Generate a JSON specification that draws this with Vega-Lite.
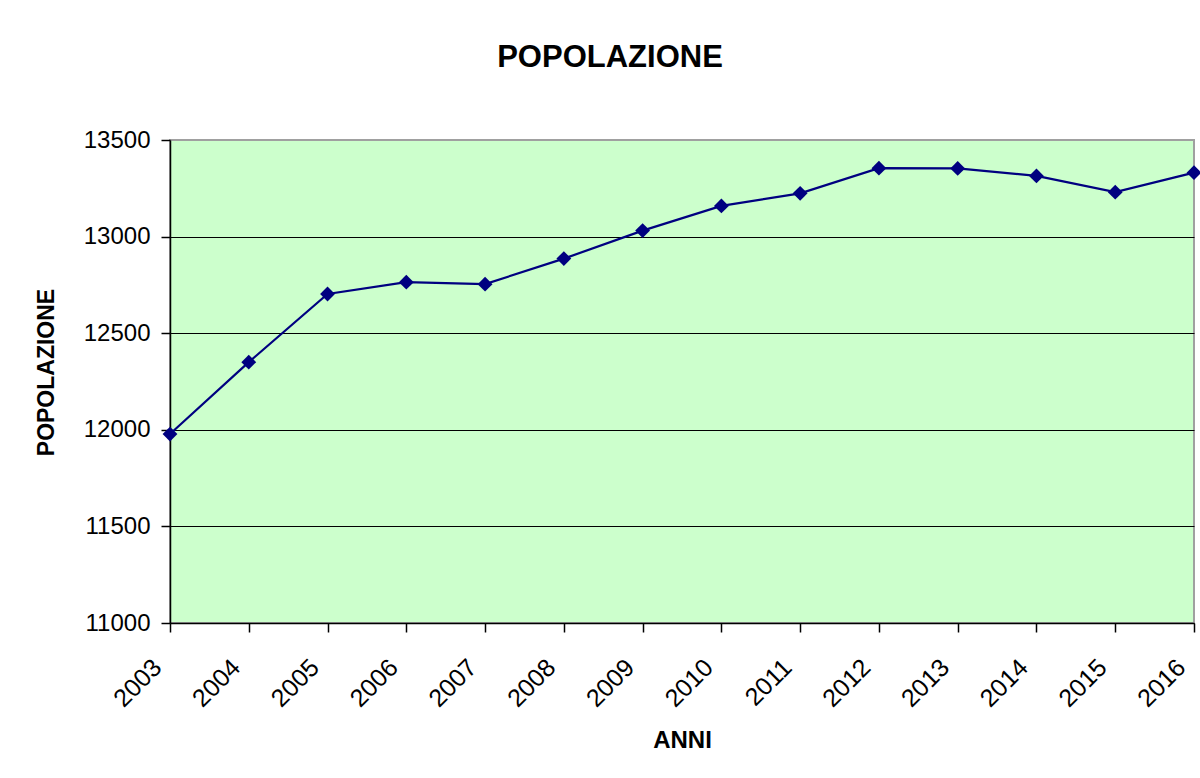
{
  "$schema": "https://vega.github.io/schema/vega-lite/v6.json",
  "autosize": "none",
  "width": 1024,
  "height": 483,
  "padding": {"left": 170, "top": 140, "right": 6, "bottom": 155},
  "background": "white",
  "title": {
    "text": "POPOLAZIONE",
    "font": "Liberation Sans",
    "fontSize": 31,
    "fontWeight": "bold",
    "color": "black",
    "anchor": "middle",
    "frame": "group",
    "baseline": "alphabetic",
    "offset": 30,
    "dx": -72
  },
  "config": {
    "view": {"fill": "#CCFFCC", "stroke": "#A0A0A0", "strokeWidth": 2},
    "axis": {
      "labelFont": "Liberation Sans",
      "titleFont": "Liberation Sans",
      "labelColor": "black",
      "titleColor": "black",
      "domainColor": "black",
      "tickColor": "black",
      "domainWidth": 1.5,
      "tickWidth": 1.5
    }
  },
  "data": {
    "values": [
      {"anno": "2003", "popolazione": 11978},
      {"anno": "2004", "popolazione": 12350},
      {"anno": "2005", "popolazione": 12703},
      {"anno": "2006", "popolazione": 12764},
      {"anno": "2007", "popolazione": 12754},
      {"anno": "2008", "popolazione": 12886},
      {"anno": "2009", "popolazione": 13031},
      {"anno": "2010", "popolazione": 13159},
      {"anno": "2011", "popolazione": 13224},
      {"anno": "2012", "popolazione": 13354},
      {"anno": "2013", "popolazione": 13353},
      {"anno": "2014", "popolazione": 13314},
      {"anno": "2015", "popolazione": 13230},
      {"anno": "2016", "popolazione": 13331}
    ]
  },
  "encoding": {
    "x": {
      "field": "anno",
      "type": "ordinal",
      "scale": {"type": "point", "padding": 0},
      "axis": {
        "title": "ANNI",
        "titleFontSize": 24,
        "titleFontWeight": "bold",
        "titleY": 124,
        "titleBaseline": "alphabetic",
        "labelFontSize": 25,
        "labelAngle": -45,
        "labelAlign": "right",
        "labelBaseline": "middle",
        "labelPadding": 31,
        "labelOffset": -13,
        "tickSize": 9,
        "grid": false
      }
    },
    "y": {
      "field": "popolazione",
      "type": "quantitative",
      "scale": {"domain": [11000, 13500], "nice": false, "zero": false},
      "axis": {
        "title": "POPOLAZIONE",
        "titleFontSize": 23,
        "titleFontWeight": "bold",
        "titleAnchor": "middle",
        "titleX": -117,
        "titleY": 232,
        "titleBaseline": "alphabetic",
        "labelFontSize": 24,
        "labelPadding": 11,
        "format": "d",
        "tickSize": 9,
        "values": [11000, 11500, 12000, 12500, 13000, 13500],
        "grid": true,
        "gridColor": {"condition": {"test": "datum.value == 13500", "value": "#A0A0A0"}, "value": "black"},
        "gridWidth": 1.2
      }
    }
  },
  "layer": [
    {"mark": {"type": "line", "color": "#000080", "strokeWidth": 2.2}},
    {"mark": {"type": "point", "shape": "diamond", "filled": true, "color": "#000080", "opacity": 1, "size": 220}}
  ]
}
